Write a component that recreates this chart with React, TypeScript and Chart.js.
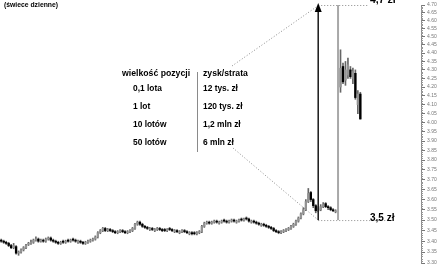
import React, { useEffect, useRef } from "react";
import { Chart, registerables } from "chart.js";
Chart.register(...registerables);

const TOTAL_DAYS = 170;
const days = Array.from({ length: TOTAL_DAYS }, (_, i) => `d${i + 1}`);

// daily candles (index 136 = gap day)
const opens = [
  3.405, 3.4, 3.395, 3.39, 3.38, 3.37, 3.375, 3.345, 3.35, 3.36,
  3.37, 3.385, 3.39, 3.395, 3.405, 3.41, 3.4, 3.405, 3.4, 3.41,
  3.415, 3.405, 3.4, 3.395, 3.39, 3.4, 3.395, 3.405, 3.4, 3.41,
  3.405, 3.395, 3.4, 3.395, 3.39, 3.395, 3.4, 3.405, 3.41, 3.42,
  3.44, 3.45, 3.46, 3.45, 3.455, 3.45, 3.445, 3.44, 3.445, 3.45,
  3.445, 3.44, 3.445, 3.45, 3.46, 3.48, 3.49, 3.48, 3.47, 3.465,
  3.455, 3.46, 3.45, 3.455, 3.46, 3.455, 3.455, 3.45, 3.46, 3.455,
  3.445, 3.45, 3.44, 3.445, 3.45, 3.445, 3.435, 3.44, 3.44, 3.435,
  3.44, 3.445, 3.47, 3.485, 3.49, 3.485, 3.49, 3.495, 3.485, 3.49,
  3.5, 3.495, 3.49, 3.495, 3.5, 3.49, 3.495, 3.505, 3.5, 3.51,
  3.505, 3.49, 3.495, 3.49, 3.485, 3.475, 3.48, 3.475, 3.47, 3.465,
  3.46, 3.45, 3.445, 3.44, 3.445, 3.45, 3.455, 3.46, 3.47, 3.48,
  3.495, 3.51, 3.53, 3.55, 3.59, 3.635, 3.6, 3.57, 3.545, 3.55,
  3.565, 3.58, 3.565, 3.56, 3.55, 3.54, null,
  4.2, 4.32, 4.24, 4.27, 4.3, 4.25, 4.28, 4.1, 4.16,
];
const closes = [
  3.4, 3.395, 3.39, 3.38, 3.37, 3.38, 3.345, 3.35, 3.36, 3.37,
  3.38, 3.39, 3.395, 3.405, 3.41, 3.4, 3.405, 3.4, 3.41, 3.415,
  3.405, 3.4, 3.395, 3.39, 3.395, 3.395, 3.4, 3.4, 3.405, 3.405,
  3.4, 3.4, 3.395, 3.39, 3.395, 3.4, 3.405, 3.41, 3.42, 3.44,
  3.45, 3.46, 3.45, 3.455, 3.45, 3.445, 3.44, 3.445, 3.45, 3.445,
  3.44, 3.445, 3.45, 3.46, 3.48, 3.49, 3.48, 3.47, 3.465, 3.46,
  3.46, 3.455, 3.455, 3.46, 3.455, 3.45, 3.45, 3.455, 3.455, 3.45,
  3.45, 3.445, 3.445, 3.45, 3.445, 3.44, 3.44, 3.435, 3.435, 3.44,
  3.445, 3.47, 3.485, 3.49, 3.485, 3.49, 3.495, 3.49, 3.49, 3.495,
  3.495, 3.49, 3.495, 3.5, 3.495, 3.495, 3.5, 3.5, 3.505, 3.505,
  3.495, 3.495, 3.49, 3.485, 3.48, 3.48, 3.475, 3.47, 3.465, 3.46,
  3.45, 3.445, 3.44, 3.445, 3.45, 3.455, 3.46, 3.47, 3.48, 3.495,
  3.51, 3.53, 3.55, 3.59, 3.63, 3.6, 3.57, 3.545, 3.555, 3.565,
  3.575, 3.565, 3.56, 3.55, 3.545, 3.545, null,
  4.31, 4.23, 4.3, 4.33, 4.26, 4.29, 4.14, 4.16, 4.02,
];
const highs = [
  3.41, 3.405, 3.4, 3.395, 3.385, 3.39, 3.38, 3.355, 3.365, 3.375,
  3.385, 3.395, 3.405, 3.41, 3.42, 3.415, 3.41, 3.41, 3.415, 3.42,
  3.42, 3.41, 3.405, 3.4, 3.4, 3.405, 3.405, 3.41, 3.41, 3.415,
  3.41, 3.405, 3.405, 3.4, 3.4, 3.405, 3.41, 3.415, 3.425, 3.445,
  3.455, 3.465, 3.465, 3.46, 3.46, 3.455, 3.45, 3.45, 3.455, 3.455,
  3.45, 3.45, 3.455, 3.465, 3.485, 3.495, 3.495, 3.485, 3.475, 3.47,
  3.465, 3.465, 3.46, 3.465, 3.465, 3.46, 3.46, 3.46, 3.465, 3.46,
  3.455, 3.455, 3.45, 3.455, 3.455, 3.45, 3.445, 3.445, 3.445, 3.445,
  3.45, 3.475, 3.49, 3.495, 3.495, 3.495, 3.5, 3.5, 3.495, 3.5,
  3.505, 3.5, 3.5, 3.505, 3.505, 3.5, 3.505, 3.51, 3.51, 3.515,
  3.51, 3.5, 3.5, 3.495, 3.49, 3.485, 3.485, 3.48, 3.475, 3.47,
  3.465, 3.455, 3.45, 3.45, 3.455, 3.46, 3.465, 3.475, 3.485, 3.5,
  3.515, 3.535, 3.56, 3.6, 3.655, 3.64, 3.605, 3.575, 3.565, 3.575,
  3.585, 3.585, 3.57, 3.565, 3.555, 3.55, null,
  4.42, 4.34, 4.35, 4.37, 4.32, 4.31, 4.3, 4.18, 4.17,
];
const lows = [
  3.395, 3.39, 3.385, 3.375, 3.365, 3.365, 3.34, 3.335, 3.345, 3.355,
  3.365, 3.38, 3.385, 3.39, 3.4, 3.395, 3.395, 3.395, 3.395, 3.405,
  3.4, 3.395, 3.39, 3.385, 3.385, 3.39, 3.39, 3.395, 3.395, 3.4,
  3.395, 3.39, 3.39, 3.385, 3.385, 3.39, 3.395, 3.4, 3.405, 3.415,
  3.435, 3.445, 3.445, 3.445, 3.445, 3.44, 3.435, 3.435, 3.44, 3.44,
  3.435, 3.435, 3.44, 3.445, 3.455, 3.475, 3.475, 3.465, 3.46, 3.455,
  3.45, 3.45, 3.445, 3.45, 3.45, 3.445, 3.445, 3.445, 3.45, 3.445,
  3.44, 3.44, 3.435, 3.44, 3.44, 3.435, 3.43, 3.43, 3.43, 3.43,
  3.435, 3.44, 3.465, 3.48, 3.48, 3.48, 3.485, 3.485, 3.48, 3.485,
  3.49, 3.485, 3.485, 3.49, 3.49, 3.485, 3.49, 3.495, 3.495, 3.5,
  3.49, 3.485, 3.485, 3.48, 3.475, 3.47, 3.47, 3.465, 3.46, 3.455,
  3.445, 3.44, 3.435, 3.435, 3.44, 3.445, 3.45, 3.455, 3.465, 3.475,
  3.49, 3.505, 3.525, 3.545, 3.585, 3.59, 3.56, 3.535, 3.54, 3.545,
  3.56, 3.56, 3.55, 3.545, 3.54, 3.535, null,
  4.17, 4.22, 4.21, 4.25, 4.25, 4.22, 4.13, 4.05, 4.02,
];

const yTickValues = [
  3.3, 3.35, 3.4, 3.45, 3.5, 3.55, 3.6, 3.65, 3.7, 3.75, 3.8, 3.85, 3.9, 3.95,
  4.0, 4.05, 4.1, 4.15, 4.2, 4.25, 4.3, 4.35, 4.4, 4.45, 4.5, 4.55, 4.6, 4.65, 4.7,
];

const chartTitle = "(świece dzienne)";
const tableHeaders = ["wielkość pozycji", "zysk/strata"];
const positionSizes = ["0,1 lota", "1 lot", "10 lotów", "50 lotów"];
const profitLoss = ["12 tys. zł", "120 tys. zł", "1,2 mln zł", "6 mln zł"];
const targetPrice = 4.7;
const basePrice = 3.5;
const targetLabel = "4,7 zł";
const baseLabel = "3,5 zł";
const arrowDay = 128;
const jumpDay = 136;
const targetLineEndDay = 148;
const baseLineEndDay = 158;

const UP = "#939393";
const DOWN = "#000000";
const FONT = "'Liberation Sans', Arial, sans-serif";

const annotations = {
  id: "annotations",
  afterDatasetsDraw(chart: any) {
    const ctx = chart.ctx;
    const xs = chart.scales.x;
    const ys = chart.scales.y;
    const ax = xs.getPixelForValue(arrowDay);
    const gx = xs.getPixelForValue(jumpDay);
    const yTop = ys.getPixelForValue(targetPrice);
    const yBase = ys.getPixelForValue(basePrice);
    const line = (x1: number, y1: number, x2: number, y2: number) => {
      ctx.beginPath();
      ctx.moveTo(x1, y1);
      ctx.lineTo(x2, y2);
      ctx.stroke();
    };
    ctx.save();
    // dotted guide lines
    ctx.setLineDash([1, 2]);
    ctx.strokeStyle = "#8a8a8a";
    ctx.lineWidth = 1;
    line(ax, yTop + 0.5, xs.getPixelForValue(targetLineEndDay), yTop + 0.5);
    line(ax, yBase + 0.5, xs.getPixelForValue(baseLineEndDay), yBase + 0.5);
    line(232, 66, ax - 2, yTop + 2);
    line(233, 148, ax, yBase);
    ctx.setLineDash([]);
    // grey vertical line (gap)
    ctx.strokeStyle = "#a8a8a8";
    ctx.lineWidth = 2;
    line(gx, yTop, gx, yBase);
    // arrow
    ctx.strokeStyle = "#222";
    ctx.lineWidth = 1.6;
    line(ax, yBase, ax, yTop + 6);
    ctx.fillStyle = "#000";
    ctx.beginPath();
    ctx.moveTo(ax, yTop - 2);
    ctx.lineTo(ax - 3.5, yTop + 7);
    ctx.lineTo(ax + 3.5, yTop + 7);
    ctx.closePath();
    ctx.fill();
    // table separator
    ctx.strokeStyle = "#8a8a8a";
    ctx.lineWidth = 1;
    line(197.5, 72, 197.5, 152);
    // texts
    ctx.fillStyle = "#000";
    ctx.textBaseline = "middle";
    ctx.textAlign = "left";
    ctx.font = `bold 6.8px ${FONT}`;
    ctx.fillText(chartTitle, 4, 5);
    ctx.font = `bold 8.7px ${FONT}`;
    ctx.fillText(tableHeaders[0], 122, 74);
    ctx.fillText(tableHeaders[1], 203, 74);
    ctx.font = `bold 8.4px ${FONT}`;
    const rowsY = [89, 107, 125, 143];
    positionSizes.forEach((t, i) => ctx.fillText(t, 133, rowsY[i]));
    profitLoss.forEach((t, i) => ctx.fillText(t, 203, rowsY[i]));
    ctx.textBaseline = "alphabetic";
    ctx.font = `bold 10.5px ${FONT}`;
    ctx.fillText(targetLabel, 370, 3);
    ctx.font = `bold 10px ${FONT}`;
    ctx.fillText(baseLabel, 370, 221);
    // minor ticks on price axis
    ctx.strokeStyle = "#999";
    ctx.lineWidth = 1;
    for (let k = 330; k <= 470; k++) {
      if (k % 5 === 0) continue;
      const y = Math.round(ys.getPixelForValue(k / 100)) + 0.5;
      line(ys.left, y, ys.left + 2, y);
    }
    ctx.restore();
  },
};

export default function App() {
  const ref = useRef<HTMLCanvasElement | null>(null);
  useEffect(() => {
    document.body.style.margin = "0";
    Chart.defaults.font.family = FONT;
    const bodyColors = opens.map((o, i) =>
      o == null ? UP : (closes[i] as number) >= o ? UP : DOWN
    );
    const chart = new Chart(ref.current as HTMLCanvasElement, {
      type: "bar",
      data: {
        labels: days,
        datasets: [
          {
            label: "knoty",
            data: lows.map((l, i) => (l == null ? null : [l, highs[i]])) as any,
            backgroundColor: "#666",
            barThickness: 1,
            grouped: false,
            order: 1,
          } as any,
          {
            label: "korpusy",
            data: opens.map((o, i) => (o == null ? null : [o, closes[i]])) as any,
            backgroundColor: bodyColors,
            barThickness: 1.7,
            minBarLength: 1,
            grouped: false,
            order: 0,
          } as any,
        ],
      },
      options: {
        animation: false,
        responsive: false,
        devicePixelRatio: 1,
        layout: { padding: { top: 5, bottom: 4, left: 0, right: 0 } },
        plugins: { legend: { display: false }, tooltip: { enabled: false }, title: { display: false } },
        scales: {
          x: { display: false, offset: true },
          y: {
            type: "logarithmic",
            position: "right",
            min: 3.3,
            max: 4.7,
            afterBuildTicks: (scale: any) => {
              scale.ticks = yTickValues.map((v) => ({ value: v }));
            },
            afterFit: (scale: any) => {
              scale.width = 18;
            },
            ticks: {
              autoSkip: false,
              padding: 2,
              color: "#777",
              font: { size: 5, family: FONT },
              callback: (v: any) => Number(v).toFixed(2),
            },
            grid: {
              drawOnChartArea: false,
              drawTicks: true,
              tickLength: 4,
              tickColor: "#777",
              tickWidth: 1,
            },
            border: { display: true, color: "#888", width: 1 },
          } as any,
        },
      },
      plugins: [annotations],
    });
    return () => chart.destroy();
  }, []);
  return (
    <div style={{ position: "absolute", left: 0, top: 0, width: 439, height: 268, background: "#fff" }}>
      <canvas ref={ref} width={439} height={268} />
    </div>
  );
}
